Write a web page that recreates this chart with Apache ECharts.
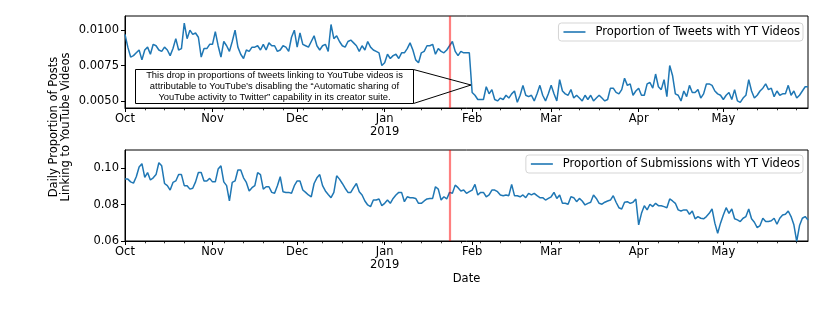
<!DOCTYPE html>
<html><head><meta charset="utf-8">
<script src="https://cdn.jsdelivr.net/npm/echarts@6/dist/echarts.min.js"></script>
<style>html,body{margin:0;padding:0;background:#fff}#c{width:830px;height:312px}</style>
</head><body><div id="c"></div>
<script>
// ---- data ----
const startYear = 2018, startMonth = 9, startDay = 1; // 2018-10-01
const dayCount = 243; // through 2019-05-31
const eventDate = '2019-01-24';
const tweetSeriesName = 'Proportion of Tweets with YT Videos';
const subSeriesName = 'Proportion of Submissions with YT Videos';
const monthNames = ['Jan','Feb','Mar','Apr','May','Jun','Jul','Aug','Sep','Oct','Nov','Dec'];
const tweetTicks = [0.0050, 0.0075, 0.0100];
const subTicks = [0.06, 0.08, 0.10];

const tweets = [
0.0097,0.0088,0.0081,0.0082,0.0084,0.0086,0.0079,0.0086,0.0088,0.0083,
0.0090,0.0089,0.0086,0.0085,0.0088,0.0086,0.0082,0.0087,0.0094,0.0086,
0.0087,0.0105,0.0094,0.0100,0.0097,0.0098,0.0095,0.0081,0.0087,0.0087,
0.0090,0.0090,0.0099,0.0089,0.0081,0.0092,0.0089,0.0085,0.0092,0.0100,
0.0088,0.0083,0.0080,0.0086,0.0085,0.0088,0.0088,0.0089,0.0086,0.0090,
0.0086,0.0091,0.0089,0.0089,0.0085,0.0086,0.0089,0.0088,0.0085,0.0095,
0.0100,0.0088,0.0098,0.0090,0.0089,0.0088,0.0092,0.0096,0.0089,0.0086,
0.0089,0.0090,0.0085,0.0104,0.0094,0.0096,0.0092,0.0089,0.0088,0.0092,
0.0093,0.0091,0.0089,0.0085,0.0089,0.0086,0.0092,0.0088,0.0086,0.0085,
0.0084,0.0075,0.0077,0.0083,0.0080,0.0082,0.0083,0.0080,0.0084,0.0084,
0.0087,0.0091,0.0086,0.0079,0.0077,0.0084,0.0085,0.0089,0.0089,0.0090,
0.0083,0.0087,0.0085,0.0084,0.0086,0.0089,0.0092,0.0085,0.0082,0.0085,
0.0084,0.0084,0.0084,0.0056,0.0054,0.0051,0.0051,0.0051,0.0060,0.0055,
0.0058,0.0051,0.0050,0.0052,0.0051,0.0054,0.0052,0.0055,0.0057,0.0049,
0.0054,0.0061,0.0054,0.0053,0.0054,0.0050,0.0055,0.0061,0.0054,0.0050,
0.0055,0.0061,0.0055,0.0050,0.0065,0.0057,0.0055,0.0054,0.0058,0.0052,
0.0054,0.0052,0.0050,0.0054,0.0051,0.0054,0.0050,0.0052,0.0054,0.0052,
0.0050,0.0051,0.0059,0.0059,0.0056,0.0055,0.0058,0.0066,0.0061,0.0062,
0.0054,0.0057,0.0059,0.0054,0.0054,0.0062,0.0063,0.0059,0.0069,0.0060,
0.0058,0.0065,0.0053,0.0075,0.0068,0.0055,0.0054,0.0050,0.0057,0.0053,
0.0061,0.0056,0.0056,0.0058,0.0052,0.0055,0.0062,0.0062,0.0061,0.0057,
0.0055,0.0054,0.0051,0.0054,0.0056,0.0051,0.0058,0.0050,0.0049,0.0052,
0.0054,0.0065,0.0057,0.0052,0.0054,0.0057,0.0059,0.0062,0.0058,0.0059,
0.0053,0.0057,0.0054,0.0055,0.0055,0.0061,0.0054,0.0057,0.0052,0.0054,
0.0057,0.0060,0.0060
];

const submissions = [
0.0940,0.0940,0.0925,0.0918,0.0953,0.1007,0.1025,0.0950,0.0976,0.0935,
0.0947,0.0965,0.1030,0.1013,0.0916,0.0904,0.0880,0.0922,0.0930,0.0965,
0.0965,0.0904,0.0904,0.0885,0.0890,0.0925,0.0976,0.0976,0.0930,0.0930,
0.0944,0.0925,0.0925,0.0995,0.1013,0.0925,0.0904,0.0820,0.0922,0.0930,
0.0990,0.0990,0.0947,0.0922,0.0875,0.0893,0.0904,0.0976,0.0965,0.0885,
0.0898,0.0898,0.0867,0.0862,0.0904,0.0953,0.0870,0.0867,0.0867,0.0862,
0.0904,0.0930,0.0930,0.0880,0.0867,0.0853,0.0843,0.0916,0.0947,0.0965,
0.0904,0.0875,0.0856,0.0838,0.0867,0.0958,0.0940,0.0916,0.0890,0.0867,
0.0867,0.0893,0.0916,0.0870,0.0853,0.0820,0.0798,0.0789,0.0825,0.0825,
0.0831,0.0794,0.0807,0.0825,0.0807,0.0834,0.0853,0.0867,0.0867,0.0816,
0.0843,0.0838,0.0838,0.0834,0.0807,0.0807,0.0820,0.0831,0.0834,0.0834,
0.0898,0.0885,0.0825,0.0843,0.0831,0.0867,0.0862,0.0907,0.0893,0.0875,
0.0880,0.0862,0.0871,0.0880,0.0911,0.0853,0.0867,0.0867,0.0843,0.0853,
0.0880,0.0880,0.0871,0.0853,0.0849,0.0853,0.0849,0.0911,0.0849,0.0849,
0.0843,0.0853,0.0838,0.0862,0.0853,0.0862,0.0849,0.0838,0.0838,0.0825,
0.0834,0.0843,0.0867,0.0834,0.0853,0.0807,0.0807,0.0802,0.0843,0.0838,
0.0816,0.0834,0.0820,0.0798,0.0807,0.0813,0.0853,0.0834,0.0807,0.0802,
0.0813,0.0820,0.0825,0.0849,0.0813,0.0783,0.0776,0.0813,0.0816,0.0807,
0.0813,0.0831,0.0689,0.0752,0.0794,0.0771,0.0802,0.0789,0.0807,0.0794,
0.0794,0.0789,0.0783,0.0831,0.0820,0.0807,0.0771,0.0765,0.0771,0.0771,
0.0747,0.0765,0.0722,0.0734,0.0725,0.0722,0.0734,0.0752,0.0776,0.0698,
0.0643,0.0698,0.0743,0.0783,0.0752,0.0776,0.0722,0.0716,0.0707,0.0725,
0.0734,0.0776,0.0722,0.0703,0.0674,0.0685,0.0725,0.0707,0.0707,0.0711,
0.0725,0.0692,0.0725,0.0743,0.0747,0.0765,0.0734,0.0689,0.0598,0.0685,
0.0725,0.0734,0.0716
];

// ---- build categories (consecutive days) ----
const dates = [];
{
  const t0 = Date.UTC(startYear, startMonth, startDay);
  for (let i = 0; i < dayCount; i++) dates.push(new Date(t0 + i * 86400000).toISOString().slice(0, 10));
}

const FONT = 'DejaVu Sans';
const FS = 11.5;
const isMonthStart = (idx, val) => String(val).slice(8) === '01';
const monthLabel = (val) => {
  const m = parseInt(val.slice(5, 7), 10) - 1;
  return m === 0 ? monthNames[m] + '\n' + val.slice(0, 4) : monthNames[m];
};

function majorX(gridIndex, extra) {
  return Object.assign({
    type: 'category', gridIndex, data: dates, boundaryGap: false, position: 'bottom',
    axisLine: { show: true, lineStyle: { color: '#000', width: 1 } },
    axisTick: { show: true, interval: isMonthStart, length: 4, lineStyle: { color: '#000', width: 1 } },
    axisLabel: { show: true, interval: isMonthStart, formatter: monthLabel, margin: 4,
      fontFamily: FONT, fontSize: FS, color: '#000', lineHeight: 13.5 },
    splitLine: { show: false }
  }, extra || {});
}
function minorX(gridIndex) {
  return {
    type: 'category', gridIndex, data: dates, boundaryGap: false, position: 'bottom',
    axisLine: { show: false },
    axisTick: { show: true, interval: (i) => i % 7 === 0, length: 2.3, lineStyle: { color: '#000', width: 0.8 } },
    axisLabel: { show: false }, splitLine: { show: false }
  };
}
function yAx(gridIndex, min, max, ticks, digits) {
  return {
    type: 'value', gridIndex, min, max,
    axisLine: { show: true, lineStyle: { color: '#000', width: 1 } },
    axisTick: { show: true, customValues: ticks, length: 4, lineStyle: { color: '#000', width: 1 } },
    axisLabel: { show: true, customValues: ticks, formatter: (v) => v.toFixed(digits), margin: 6,
      fontFamily: FONT, fontSize: FS, color: '#000' },
    splitLine: { show: false }
  };
}
function legendFor(name, top) {
  return {
    data: [name], right: 27, top, orient: 'horizontal',
    icon: 'rect', itemWidth: 22, itemHeight: 1.6,
    padding: [3, 3, 3, 5],
    backgroundColor: '#fff', borderColor: '#d5d5d5', borderWidth: 1, borderRadius: 3,
    textStyle: { fontFamily: FONT, fontSize: FS, color: '#000', padding: [0, 0, 0, 5] },
    selectedMode: false
  };
}
const redLine = {
  silent: true, symbol: ['none', 'none'], label: { show: false },
  lineStyle: { color: 'rgba(255,0,0,0.5)', width: 2.2, type: 'solid' },
  data: [{ xAxis: eventDate }]
};

const chart = echarts.init(document.getElementById('c'), null, { renderer: 'canvas' });
chart.setOption({
  animation: false,
  backgroundColor: '#fff',
  grid: [
    { left: 125, top: 16, width: 683, height: 92, show: true, borderColor: '#000', borderWidth: 1, containLabel: false },
    { left: 125, top: 150, width: 683, height: 91, show: true, borderColor: '#000', borderWidth: 1, containLabel: false }
  ],
  xAxis: [
    majorX(0),
    majorX(1, { name: 'Date', nameLocation: 'middle', nameGap: 32,
      nameTextStyle: { fontFamily: FONT, fontSize: FS, color: '#000' } }),
    minorX(0), minorX(1)
  ],
  yAxis: [
    yAx(0, 0.0045, 0.0110, tweetTicks, 4),
    yAx(1, 0.06, 0.11, subTicks, 2)
  ],
  legend: [legendFor(tweetSeriesName, 23), legendFor(subSeriesName, 155)],
  series: [
    { name: tweetSeriesName, type: 'line', xAxisIndex: 0, yAxisIndex: 0, data: tweets,
      showSymbol: false, symbol: 'none', color: '#1f77b4', lineStyle: { color: '#1f77b4', width: 1.5 },
      markLine: redLine },
    { name: subSeriesName, type: 'line', xAxisIndex: 1, yAxisIndex: 1, data: submissions,
      showSymbol: false, symbol: 'none', color: '#1f77b4', lineStyle: { color: '#1f77b4', width: 1.5 },
      markLine: redLine }
  ],
  graphic: [
    { type: 'text', x: 60, y: 127, rotation: Math.PI / 2,
      style: { text: 'Daily Proportion of Posts\nLinking to YouTube Videos', font: FS + 'px "DejaVu Sans"',
        align: 'center', verticalAlign: 'middle', lineHeight: 12.5, fill: '#000' } },
    { type: 'polyline', z: 100, shape: { points: [[413.5, 69.5], [471, 85], [413.5, 103.5]] },
      style: { stroke: '#000', lineWidth: 1, fill: null } },
    { type: 'rect', z: 100, shape: { x: 135.5, y: 69.5, width: 278, height: 34 },
      style: { fill: '#fff', stroke: '#000', lineWidth: 1 } },
    { type: 'text', z: 101, x: 274.5, y: 86.5,
      style: { text: 'This drop in proportions of tweets linking to YouTube videos is\nattributable to YouTube\u2019s disabling the \u201cAutomatic sharing of\nYouTube activity to Twitter\u201d capability in its creator suite.',
        font: '9.4px "Liberation Sans"', align: 'center', verticalAlign: 'middle', lineHeight: 11.2, fill: '#000' } }
  ]
});
</script>
</body></html>
